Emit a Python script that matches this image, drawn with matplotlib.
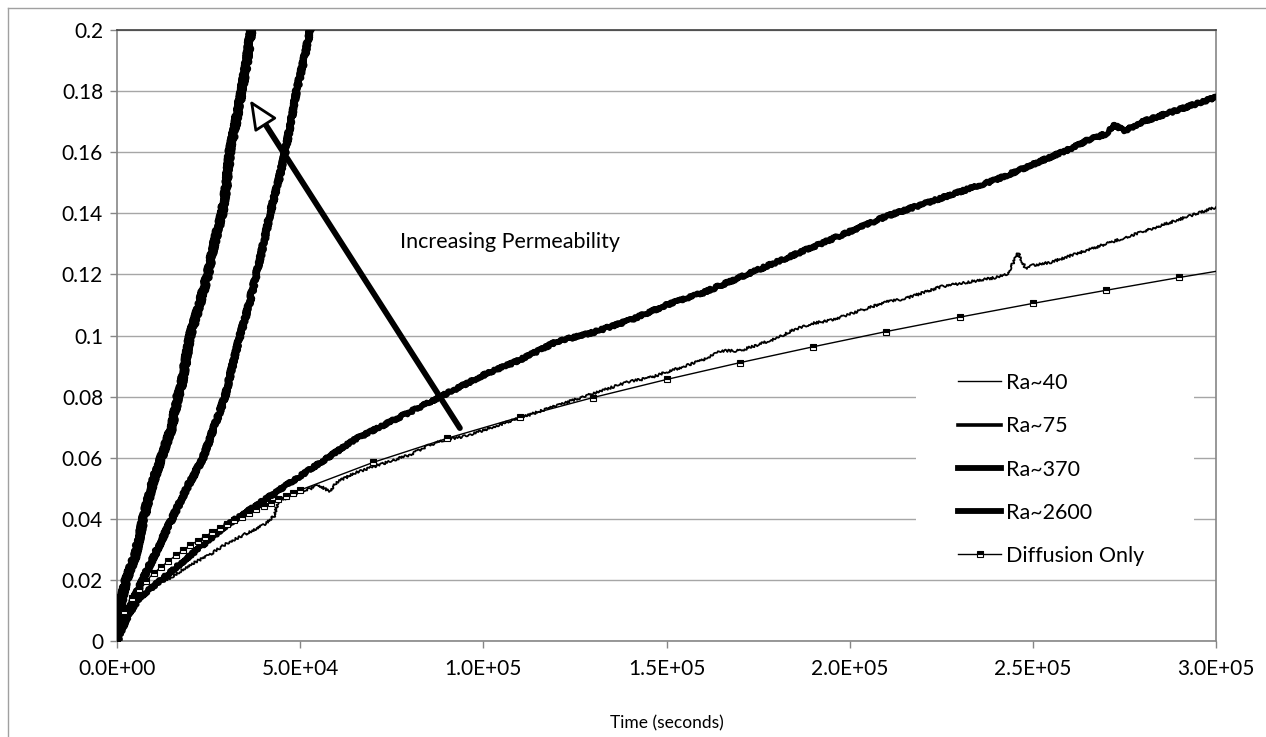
import matplotlib
matplotlib.use("Agg")
import matplotlib.pyplot as plt
from matplotlib.lines import Line2D
from matplotlib.patches import Rectangle
from matplotlib.ticker import FuncFormatter

plt.rcParams['font.family'] = ['Lato', 'DejaVu Sans']

# time in seconds, concentration in the same units as the y axis
t_ra40 = [0, 2000, 5000, 10000, 15000, 20000, 25000, 30000, 35000, 40000, 43000,
          44000, 47000, 50000, 53000, 55000, 58000, 60000, 65000, 70000, 75000,
          80000, 85000, 90000, 95000, 100000, 105000, 110000, 115000, 120000,
          125000, 130000, 135000, 140000, 145000, 150000, 155000, 160000, 165000,
          170000, 175000, 180000, 185000, 190000, 195000, 200000, 205000, 210000,
          215000, 220000, 225000, 230000, 235000, 240000, 243000, 246000, 248000,
          250000, 255000, 260000, 265000, 270000, 275000, 280000, 285000, 290000,
          295000, 300000]
y_ra40 = [0, 0.007, 0.012, 0.018, 0.021, 0.025, 0.028, 0.032, 0.035, 0.038, 0.041,
          0.046, 0.047, 0.049, 0.050, 0.051, 0.049, 0.052, 0.055, 0.057, 0.059,
          0.061, 0.064, 0.066, 0.067, 0.069, 0.071, 0.073, 0.075, 0.077,
          0.079, 0.081, 0.083, 0.085, 0.086, 0.088, 0.090, 0.092, 0.095,
          0.095, 0.097, 0.099, 0.102, 0.104, 0.105, 0.107, 0.109, 0.111,
          0.112, 0.114, 0.116, 0.117, 0.118, 0.119, 0.120, 0.127, 0.122,
          0.123, 0.124, 0.126, 0.128, 0.130, 0.132, 0.134, 0.136, 0.138,
          0.140, 0.142]

t_ra75 = [0, 3000, 6000, 10000, 14000, 20000, 25000, 30000, 35000, 40000, 45000,
          50000, 55000, 60000, 65000, 70000, 75000, 80000, 85000, 90000, 95000,
          100000, 110000, 120000, 130000, 140000, 150000, 160000, 170000, 180000,
          190000, 200000, 210000, 220000, 230000, 240000, 250000, 260000, 265000,
          270000, 272000, 275000, 280000, 290000, 300000]
y_ra75 = [0, 0.008, 0.014, 0.018, 0.022, 0.028, 0.033, 0.038, 0.042, 0.046, 0.050,
          0.054, 0.058, 0.062, 0.066, 0.069, 0.072, 0.075, 0.078, 0.081, 0.084,
          0.087, 0.092, 0.098, 0.101, 0.105, 0.110, 0.114, 0.119, 0.124,
          0.129, 0.134, 0.139, 0.143, 0.147, 0.151, 0.156, 0.161, 0.164,
          0.166, 0.169, 0.167, 0.170, 0.174, 0.178]

t_ra370 = [0, 2000, 4000, 7000, 11000, 15000, 19000, 23500, 26500, 29500, 31500,
           33600, 36000, 38000, 40000, 41800, 44000, 45900, 47500, 49000, 51000,
           52700, 54000]
y_ra370 = [0, 0.008, 0.012, 0.020, 0.030, 0.040, 0.050, 0.060, 0.070, 0.080, 0.090,
           0.100, 0.110, 0.120, 0.130, 0.140, 0.150, 0.160, 0.170, 0.180, 0.190,
           0.200, 0.207]

t_ra2600 = [0, 1000, 2500, 5000, 7600, 9800, 12800, 15000, 16600, 17500, 18500,
            20000, 22500, 24800, 26500, 28700, 30000, 30800, 32500, 34000, 35500,
            36600, 37500]
y_ra2600 = [0, 0.012, 0.020, 0.028, 0.042, 0.052, 0.0625, 0.070, 0.080, 0.083, 0.090,
            0.100, 0.110, 0.120, 0.130, 0.140, 0.150, 0.160, 0.170, 0.180, 0.190,
            0.200, 0.206]

t_diff = [0, 2000, 4000, 6000, 8000, 10000, 12000, 14000, 16000, 18000, 20000,
          22000, 24000, 26000, 28000, 30000, 32000, 34000, 36000, 38000, 40000,
          42000, 44000, 46000, 48000, 50000, 70000, 90000, 110000, 130000, 150000,
          170000, 190000, 210000, 230000, 250000, 270000, 290000]
y_diff = [0, 0.0099, 0.0140, 0.0171, 0.0198, 0.0221, 0.0242, 0.0261, 0.0280, 0.0297,
          0.0313, 0.0328, 0.0342, 0.0356, 0.0370, 0.0383, 0.0395, 0.0407, 0.0419,
          0.0431, 0.0442, 0.0453, 0.0464, 0.0474, 0.0484, 0.0494, 0.0585, 0.0663,
          0.0733, 0.0797, 0.0856, 0.0911, 0.0963, 0.1013, 0.1060, 0.1105, 0.1148,
          0.1190]
t_diff_end = [290000, 300000]
y_diff_end = [0.1190, 0.1210]

x_ticks = [0, 50000, 100000, 150000, 200000, 250000, 300000]
y_ticks = [0, 0.02, 0.04, 0.06, 0.08, 0.10, 0.12, 0.14, 0.16, 0.18, 0.20]

arrow_tail = (93600, 0.0697)
arrow_tip = (36300, 0.177)

W, H = 1266, 737
fig = plt.figure(figsize=(W / 100, H / 100), dpi=100)
ax = fig.add_axes([117 / W, 1 - 641 / H, (1216 - 117) / W, (641 - 30) / H])

grid_c = '#a6a6a6'
axis_c = '#868686'

# measured series are noisy, so draw them with a rough stroke
l40, = ax.plot(t_ra40, y_ra40, color='black', lw=1.3, zorder=3)
l40.set_sketch_params(scale=1.2, length=3, randomness=3)
l75, = ax.plot(t_ra75, y_ra75, color='black', lw=4.0, zorder=3)
l75.set_sketch_params(scale=1.3, length=3, randomness=3)
l370, = ax.plot(t_ra370, y_ra370, color='black', lw=5.0, zorder=3)
l370.set_sketch_params(scale=1.3, length=3, randomness=3)
l2600, = ax.plot(t_ra2600, y_ra2600, color='black', lw=6.0, zorder=3)
l2600.set_sketch_params(scale=1.5, length=3, randomness=3)
ax.plot(t_diff_end, y_diff_end, color='black', lw=1.0, zorder=3)
ax.plot(t_diff, y_diff, color='black', lw=1.0, marker='s', ms=4.5,
        fillstyle='top', markerfacecolor='black', markerfacecoloralt='white',
        markeredgecolor='black', markeredgewidth=0.8, zorder=3)

ax.set_xlim(0, 300000)
ax.set_ylim(0, 0.2)
ax.set_xticks(x_ticks)
ax.set_yticks(y_ticks)
ax.xaxis.set_major_formatter(FuncFormatter(lambda v, p: f"{v:.1E}"))
ax.yaxis.set_major_formatter(FuncFormatter(lambda v, p: f"{v:.2f}".rstrip('0').rstrip('.') if v else "0"))
ax.tick_params(axis='both', length=5, width=1, color=axis_c, labelsize=15, pad=5)
ax.tick_params(axis='x', pad=8)
ax.grid(axis='y', color=grid_c, lw=1)
ax.set_axisbelow(True)
for side in ['left', 'bottom', 'right']:
    ax.spines[side].set_color(axis_c)
    ax.spines[side].set_linewidth(1.2)
ax.spines['top'].set_color('#404040')
ax.spines['top'].set_linewidth(1.2)
ax.set_xlabel('Time (seconds)', fontsize=12.5, labelpad=26)

# arrow: thick shaft plus an open triangular head
fx = 0.07
base = (arrow_tip[0] + fx * (arrow_tail[0] - arrow_tip[0]),
        arrow_tip[1] + fx * (arrow_tail[1] - arrow_tip[1]))
ax.annotate('', xy=base, xytext=arrow_tail,
            arrowprops=dict(arrowstyle='-', lw=4.2, color='black',
                            shrinkA=0, shrinkB=0), zorder=5)
ax.annotate('', xy=arrow_tip, xytext=base,
            arrowprops=dict(arrowstyle='-|>,head_length=1.0,head_width=0.45',
                            mutation_scale=18, lw=2.0, fc='white', ec='black',
                            shrinkA=0, shrinkB=0), zorder=6)
ax.text(77300, 0.1306, 'Increasing Permeability', fontsize=15.5, va='center', ha='left')

# legend area blanks out the gridlines behind it
ax.add_patch(Rectangle(((916 - 117) / 1099, (641 - 570) / 611), (1194 - 916) / 1099,
                       (570 - 365) / 611, transform=ax.transAxes, facecolor='white',
                       edgecolor='none', zorder=2))
handles = [
    Line2D([], [], color='black', lw=1.0),
    Line2D([], [], color='black', lw=2.6),
    Line2D([], [], color='black', lw=4.2),
    Line2D([], [], color='black', lw=4.2),
    Line2D([], [], color='black', lw=1.0, marker='s', ms=4.5, fillstyle='top',
           markerfacecolor='black', markerfacecoloralt='white', markeredgewidth=0.8),
]
labels = ['Ra~40', 'Ra~75', 'Ra~370', 'Ra~2600', 'Diffusion Only']
leg = ax.legend(handles, labels, loc='upper left',
                bbox_to_anchor=((958 - 117) / 1099, (641 - 373) / 611),
                frameon=False, fontsize=15.5, handlelength=2.0, handletextpad=0.25,
                labelspacing=1.08, borderpad=0, borderaxespad=0)
leg.set_zorder(4)

# outer chart-area border
fig.add_artist(Line2D([8 / W, 8 / W], [0, 1 - 8 / H], color='#a0a0a0', lw=1))
fig.add_artist(Line2D([8 / W, 1], [1 - 8 / H, 1 - 8 / H], color='#a0a0a0', lw=1))

fig.savefig('out.png', dpi=100)
